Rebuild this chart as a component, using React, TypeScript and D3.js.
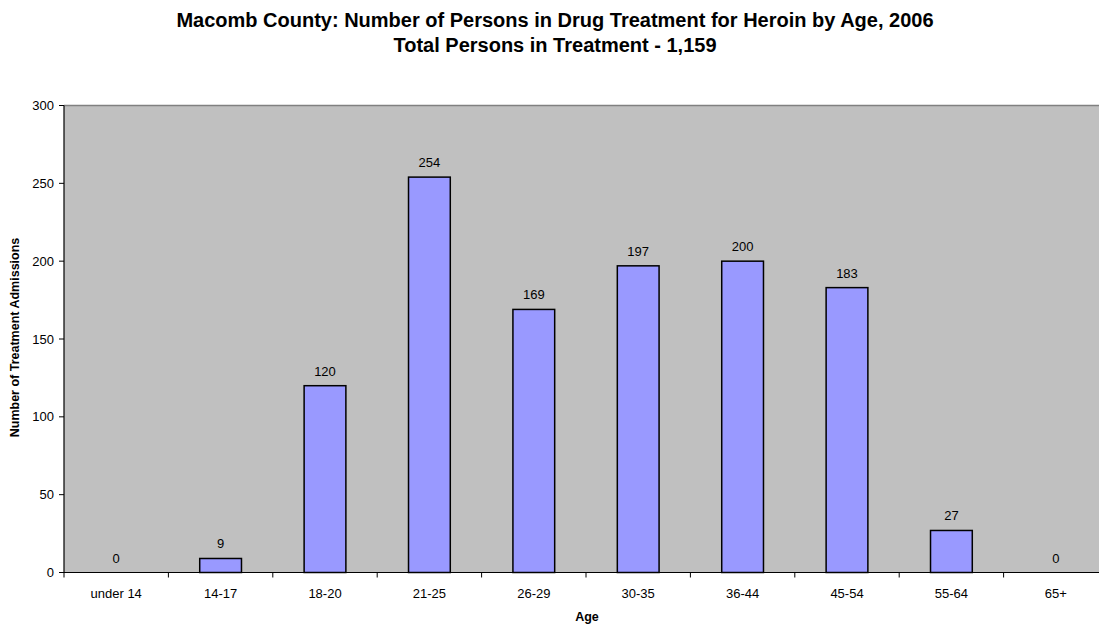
import React from "react";
import * as d3 from "d3";

const categories = ["under 14", "14-17", "18-20", "21-25", "26-29", "30-35", "36-44", "45-54", "55-64", "65+"];
const values = [0, 9, 120, 254, 169, 197, 200, 183, 27, 0];
const yTicks = [0, 50, 100, 150, 200, 250, 300];
const titleLines = [
  "Macomb County: Number of Persons in Drug Treatment for Heroin by Age, 2006",
  "Total Persons in Treatment - 1,159",
];

const W = 1099;
const H = 627;
const left = 64;
const right = 1108;
const top = 105.5;
const bottom = 572.5;
const font = "'Liberation Sans', Arial, sans-serif";

export default function App() {
  const x = d3.scaleBand<string>().domain(categories).range([left, right]).paddingInner(0).paddingOuter(0);
  const y = d3.scaleLinear().domain([0, 300]).range([bottom, top]);
  const bw = x.bandwidth() * 0.4;
  const bounds = [...categories.map((c) => x(c) as number), right];

  return (
    <svg width={W} height={H} style={{ position: "absolute", left: 0, top: 0 }} fontFamily={font}>
      <rect x={0} y={0} width={W} height={H} fill="#fff" />
      {titleLines.map((t, i) => (
        <text key={i} x={555} y={27 + i * 25} textAnchor="middle" fontSize={20} fontWeight="bold" fill="#000">
          {t}
        </text>
      ))}
      <rect x={left} y={top} width={right - left} height={bottom - top} fill="#c0c0c0" />
      <line x1={left} x2={right} y1={top} y2={top} stroke="#808080" strokeWidth={1.5} />
      {categories.map((c, i) => {
        const v = values[i];
        const cx = (x(c) as number) + x.bandwidth() / 2;
        return (
          <g key={c}>
            {v > 0 && (
              <rect x={cx - bw / 2} y={y(v)} width={bw} height={y(0) - y(v)} fill="#9999ff" stroke="#000" strokeWidth={1.5} />
            )}
            <text x={cx} y={y(v) - 10} textAnchor="middle" fontSize={13} fill="#000">
              {v}
            </text>
            <text x={cx} y={bottom + 25.5} textAnchor="middle" fontSize={13} fill="#000">
              {c}
            </text>
          </g>
        );
      })}
      <line x1={left} x2={left} y1={top} y2={bottom} stroke="#000" strokeWidth={1.2} />
      <line x1={left} x2={right} y1={bottom} y2={bottom} stroke="#000" strokeWidth={1.2} />
      {bounds.map((b, i) => (
        <line key={i} x1={b} x2={b} y1={bottom} y2={bottom + 5} stroke="#000" strokeWidth={1} />
      ))}
      {yTicks.map((t) => (
        <g key={t}>
          <line x1={left - 5} x2={left} y1={y(t)} y2={y(t)} stroke="#000" strokeWidth={1} />
          <text x={left - 10} y={y(t) + 4.5} textAnchor="end" fontSize={13} fill="#000">
            {t}
          </text>
        </g>
      ))}
      <text x={587} y={621} textAnchor="middle" fontSize={12.5} fontWeight="bold" fill="#000">
        Age
      </text>
      <text transform={`translate(19,337.5) rotate(-90)`} textAnchor="middle" fontSize={12.5} fontWeight="bold" fill="#000">
        Number of Treatment Admissions
      </text>
    </svg>
  );
}
